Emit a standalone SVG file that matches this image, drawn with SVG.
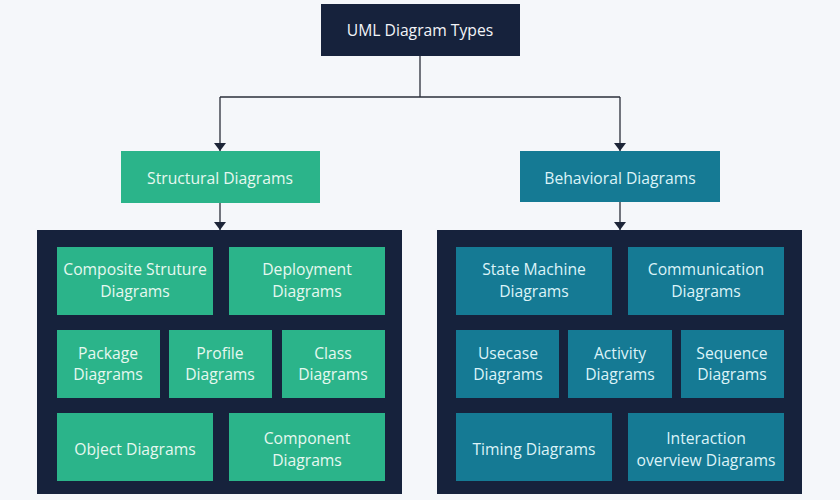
<svg xmlns="http://www.w3.org/2000/svg" width="840" height="500" viewBox="0 0 840 500">
<defs>
<style>
text{font-family:"Open Sans","Noto Sans",sans-serif;font-size:15.7px;text-anchor:middle;dominant-baseline:central}
.navy{fill:#16223c}
.g{fill:#2bb48a}
.t{fill:#157a94}
.gt{fill:#e6f8f0}
.tt{fill:#dcf3f8}
.wt{fill:#f2f4f8}
.ln{stroke:#2a2f3a;stroke-width:1.3;fill:none}
.arr{stroke:#2a2f3a;stroke-width:1.3;fill:none;marker-end:url(#ah)}
</style>
<marker id="ah" viewBox="0 0 8 12" refX="8" refY="6" markerWidth="8" markerHeight="12" markerUnits="userSpaceOnUse" orient="auto">
<path d="M0,0 L8,6 L0,12 Z" fill="#1d2538"/>
</marker>
</defs>
<rect width="840" height="500" fill="#f5f7fa"/>
<g id="connectors">
<path class="ln" d="M420,56 V97"/>
<path class="ln" d="M220,97 H620"/>
<path class="arr" d="M220,97 V151"/>
<path class="arr" d="M620,97 V151"/>
<path class="arr" d="M220,203 V230"/>
<path class="arr" d="M620,202 V230"/>
</g>
<g id="root">
<rect class="navy" x="321" y="4" width="199" height="52"/>
<text class="wt" x="420" y="30" font-size="16.5">UML Diagram Types</text>
</g>
<g id="structural">
<rect class="g" x="121" y="151" width="199" height="52"/>
<text class="gt" x="220" y="178">Structural Diagrams</text>
</g>
<g id="behavioral">
<rect class="t" x="520" y="151" width="200" height="51"/>
<text class="tt" x="620" y="178">Behavioral Diagrams</text>
</g>
<g id="structural-group">
<rect class="navy" x="37" y="230" width="365" height="264"/>
</g>
<g id="behavioral-group">
<rect class="navy" x="437" y="230" width="365" height="264"/>
</g>
<g id="composite">
<rect class="g" x="57" y="247" width="156" height="68"/>
<text class="gt" x="135" y="269">Composite Struture</text>
<text class="gt" x="135" y="291">Diagrams</text>
</g>
<g id="deployment">
<rect class="g" x="229" y="247" width="156" height="68"/>
<text class="gt" x="307" y="269">Deployment</text>
<text class="gt" x="307" y="291">Diagrams</text>
</g>
<g id="package">
<rect class="g" x="57" y="330" width="103" height="68"/>
<text class="gt" x="108" y="353">Package</text>
<text class="gt" x="108" y="374">Diagrams</text>
</g>
<g id="profile">
<rect class="g" x="169" y="330" width="103" height="68"/>
<text class="gt" x="220" y="353">Profile</text>
<text class="gt" x="220" y="374">Diagrams</text>
</g>
<g id="class">
<rect class="g" x="282" y="330" width="103" height="68"/>
<text class="gt" x="333" y="353">Class</text>
<text class="gt" x="333" y="374">Diagrams</text>
</g>
<g id="object">
<rect class="g" x="57" y="413" width="156" height="68"/>
<text class="gt" x="135" y="449">Object Diagrams</text>
</g>
<g id="component">
<rect class="g" x="229" y="413" width="156" height="68"/>
<text class="gt" x="307" y="438">Component</text>
<text class="gt" x="307" y="460">Diagrams</text>
</g>
<g id="statemachine">
<rect class="t" x="456" y="247" width="156" height="68"/>
<text class="tt" x="534" y="269">State Machine</text>
<text class="tt" x="534" y="291">Diagrams</text>
</g>
<g id="communication">
<rect class="t" x="628" y="247" width="156" height="68"/>
<text class="tt" x="706" y="269">Communication</text>
<text class="tt" x="706" y="291">Diagrams</text>
</g>
<g id="usecase">
<rect class="t" x="456" y="330" width="103" height="68"/>
<text class="tt" x="508" y="353">Usecase</text>
<text class="tt" x="508" y="374">Diagrams</text>
</g>
<g id="activity">
<rect class="t" x="568" y="330" width="104" height="68"/>
<text class="tt" x="620" y="353">Activity</text>
<text class="tt" x="620" y="374">Diagrams</text>
</g>
<g id="sequence">
<rect class="t" x="681" y="330" width="103" height="68"/>
<text class="tt" x="732" y="353">Sequence</text>
<text class="tt" x="732" y="374">Diagrams</text>
</g>
<g id="timing">
<rect class="t" x="456" y="413" width="156" height="68"/>
<text class="tt" x="534" y="449">Timing Diagrams</text>
</g>
<g id="interaction">
<rect class="t" x="628" y="413" width="156" height="68"/>
<text class="tt" x="706" y="438">Interaction</text>
<text class="tt" x="706" y="460">overview Diagrams</text>
</g>
</svg>
